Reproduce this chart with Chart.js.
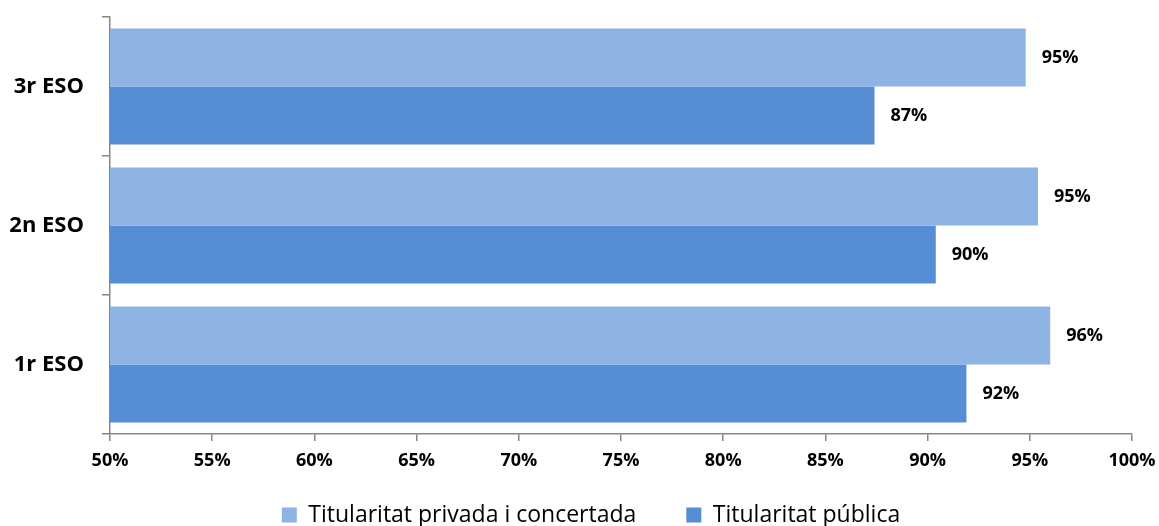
<!DOCTYPE html>
<html>
<head>
<meta charset="utf-8">
<script src="https://cdn.jsdelivr.net/npm/chart.js@4"></script>
<style>
  html, body { margin: 0; padding: 0; background: #fff; }
  #wrap { width: 1159px; height: 526px; }
</style>
</head>
<body>
<div id="wrap"><canvas id="eso"></canvas></div>
<script>
// cursos (de dalt a baix)
const courses = ['3r ESO', '2n ESO', '1r ESO']
const privada = [94.8, 95.4, 96.0]
const publica = [87.4, 90.4, 91.9]
const seriesNames = ['Titularitat privada i concertada', 'Titularitat pública']
const xTicks = [50, 100, 5]   // min, max, step

Chart.defaults.font.family = "'Open Sans', sans-serif"
Chart.defaults.color = '#000'

const axisGray = '#868686'

// etiquetes de valor al final de cada barra
const valueLabels = {
    id: 'valueLabels',
    afterDatasetsDraw(chart) {
        const ctx = chart.ctx
        ctx.save()
        ctx.font = "bold 18px 'Open Sans', sans-serif"
        ctx.fillStyle = '#000'
        ctx.textAlign = 'left'
        ctx.textBaseline = 'middle'
        chart.data.datasets.forEach((ds, i) => {
            chart.getDatasetMeta(i).data.forEach((bar, j) => {
                ctx.fillText(Math.round(ds.data[j]) + '%', bar.x + 16, bar.y)
            })
        })
        ctx.restore()
    }
}

// la llegenda una mica més amunt i cap a la dreta
const legendNudge = {
    id: 'legendNudge',
    afterLayout(chart) {
        chart.legend.top -= 20.5
        chart.legend.left += 25
        chart.legend.right += 25
    }
}

new Chart(document.getElementById('eso'), {
    type: 'bar',
    data: {
        labels: courses,
        datasets: [
            {
                label: seriesNames[0],
                data: privada,
                backgroundColor: '#8EB4E3',
                categoryPercentage: 0.835,
                barPercentage: 1
            },
            {
                label: seriesNames[1],
                data: publica,
                backgroundColor: '#558ED5',
                categoryPercentage: 0.835,
                barPercentage: 1
            }
        ]
    },
    options: {
        indexAxis: 'y',
        responsive: true,
        maintainAspectRatio: false,
        animation: false,
        layout: { padding: { left: 0, right: 27, top: 17, bottom: 0 } },
        scales: {
            x: {
                min: xTicks[0],
                max: xTicks[1],
                ticks: {
                    stepSize: xTicks[2],
                    padding: 9,
                    font: { size: 18, weight: 'bold' },
                    callback: v => v + '%'
                },
                grid: { drawOnChartArea: false, drawTicks: true, tickLength: 7, color: axisGray, lineWidth: 1.5 },
                border: { color: axisGray, width: 1.5 },
                afterFit(scale) {
                    scale.height = 40
                    scale.paddingLeft = 0
                    scale.paddingRight = 0
                }
            },
            y: {
                ticks: {
                    padding: 18,
                    font: { size: 22, weight: 'bold' }
                },
                grid: { drawOnChartArea: false, drawTicks: true, tickLength: 8, color: axisGray, lineWidth: 1.5 },
                border: { color: axisGray, width: 1.5 },
                afterFit(scale) {
                    scale.width = 110
                    scale.paddingTop = 0
                    scale.paddingBottom = 0
                }
            }
        },
        plugins: {
            legend: {
                position: 'bottom',
                maxHeight: 52,
                labels: {
                    boxWidth: 15,
                    boxHeight: 15,
                    padding: 50,
                    font: { size: 23 },
                    color: '#000'
                }
            },
            tooltip: { enabled: false }
        }
    },
    plugins: [valueLabels, legendNudge]
})
</script>
</body>
</html>
